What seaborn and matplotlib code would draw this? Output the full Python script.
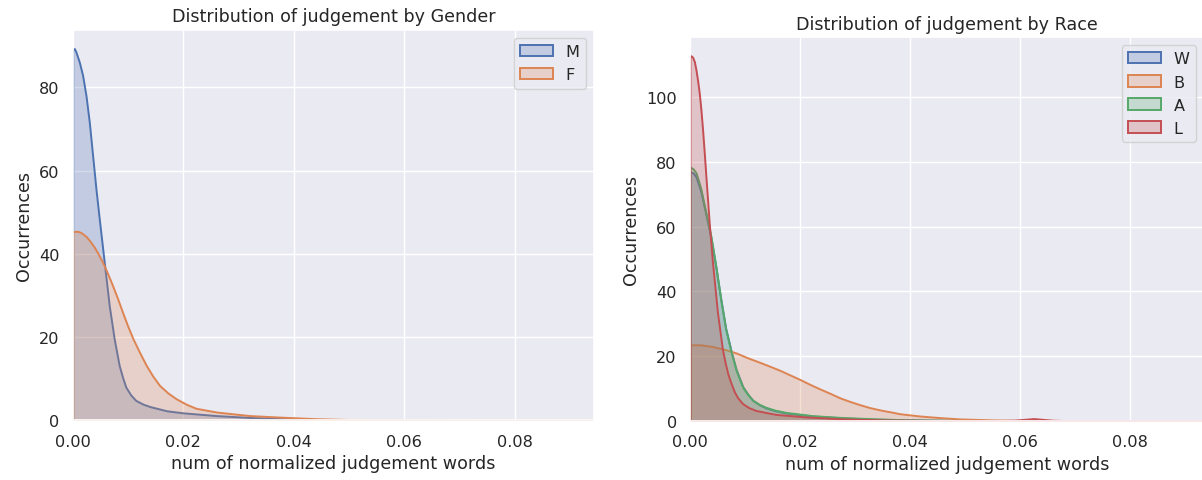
import matplotlib
matplotlib.use("Agg")
import matplotlib.pyplot as plt
from matplotlib.patches import Patch
import seaborn as sns

#--------------------------------------------------------------------
# density curves (x = normalized words, y = density)
#--------------------------------------------------------------------
gender_labels = ["M", "F"]
m_x = [0.0, 0.0003, 0.0006, 0.0012, 0.0018, 0.0024, 0.0030, 0.0036, 0.0042, 0.0048,
       0.0057, 0.0066, 0.0075, 0.0084, 0.0090, 0.0096, 0.0105, 0.0114, 0.0127, 0.014,
       0.017, 0.020, 0.026, 0.032, 0.038, 0.045, 0.055, 0.070, 0.0945]
m_y = [89.0, 89.3, 88.4, 86.0, 82.8, 78.0, 71.6, 63.6, 55.6, 48.4,
       38.0, 27.6, 19.6, 13.2, 10.4, 8.0, 6.1, 4.8, 3.9, 3.3,
       2.3, 1.8, 1.15, 0.7, 0.4, 0.15, 0.05, 0.0, 0.0]
f_x = [0.0, 0.0005, 0.0009, 0.0015, 0.0024, 0.0031, 0.0039, 0.0046, 0.0054, 0.0063,
       0.0072, 0.0081, 0.0090, 0.0099, 0.0109, 0.0121, 0.0133, 0.0145, 0.0157, 0.0172,
       0.0187, 0.0205, 0.0223, 0.026, 0.032, 0.038, 0.044, 0.050, 0.060, 0.075, 0.0945]
f_y = [45.3, 45.4, 45.4, 45.1, 44.2, 43.1, 41.6, 40.0, 38.0, 35.3,
       32.4, 29.3, 26.0, 22.8, 19.6, 16.3, 13.2, 10.6, 8.4, 6.6,
       5.2, 3.9, 2.9, 2.0, 1.15, 0.75, 0.4, 0.2, 0.05, 0.0, 0.0]

race_labels = ["W", "B", "A", "L"]
w_x = [0.0, 0.0006, 0.0011, 0.0015, 0.0020, 0.0029, 0.0038, 0.0047, 0.0056, 0.0065,
       0.0075, 0.0084, 0.0096, 0.0105, 0.0114, 0.0126, 0.0138, 0.0155, 0.0175, 0.0223,
       0.028, 0.034, 0.040, 0.050, 0.060, 0.094]
w_y = [77.1, 76.6, 75.5, 73.5, 70.8, 63.9, 56.8, 47.7, 37.7, 28.6,
       21.5, 15.9, 10.6, 8.3, 6.4, 5.0, 4.0, 3.1, 2.4, 1.5,
       0.9, 0.5, 0.3, 0.1, 0.0, 0.0]
b_x = [0.0, 0.002, 0.0041, 0.0065, 0.0084, 0.0105, 0.0127, 0.0145, 0.0164, 0.0182,
       0.020, 0.0218, 0.0236, 0.0255, 0.0273, 0.0291, 0.0309, 0.0327, 0.0345, 0.0364,
       0.0382, 0.0418, 0.0455, 0.049, 0.055, 0.062, 0.070, 0.094]
b_y = [23.5, 23.5, 23.0, 22.0, 21.0, 19.5, 18.1, 16.9, 15.6, 14.2,
       12.8, 11.3, 9.9, 8.5, 7.1, 6.0, 5.0, 4.1, 3.4, 2.8,
       2.2, 1.5, 1.0, 0.6, 0.3, 0.1, 0.0, 0.0]
a_x = [0.0, 0.0006, 0.0011, 0.0015, 0.0020, 0.0029, 0.0038, 0.0047, 0.0056, 0.0065,
       0.0075, 0.0084, 0.0096, 0.0105, 0.0114, 0.0126, 0.0138, 0.0155, 0.0175, 0.0223,
       0.028, 0.034, 0.040, 0.050, 0.060, 0.094]
a_y = [78.5, 77.9, 76.7, 74.6, 71.6, 64.4, 57.2, 47.9, 37.7, 28.4,
       21.2, 15.6, 10.4, 8.2, 6.4, 5.1, 4.2, 3.3, 2.6, 1.6,
       1.0, 0.6, 0.3, 0.1, 0.0, 0.0]
l_x = [0.0, 0.0002, 0.0005, 0.0008, 0.0011, 0.0014, 0.0017, 0.0020, 0.0023, 0.0026,
       0.0029, 0.0032, 0.0035, 0.0041, 0.0050, 0.0059, 0.0064, 0.0069, 0.0075, 0.0081,
       0.0087, 0.0096, 0.0107, 0.0120, 0.0156, 0.0211, 0.028, 0.035, 0.045, 0.055,
       0.059, 0.0625, 0.066, 0.070, 0.094]
l_y = [112.6, 112.9, 112.4, 111.1, 108.5, 105.2, 101.3, 96.2, 90.0, 83.0,
       75.7, 68.5, 61.3, 49.0, 33.6, 22.2, 18.0, 14.5, 11.5, 8.9,
       7.1, 5.3, 4.1, 3.2, 2.0, 1.2, 0.6, 0.3, 0.1, 0.05,
       0.2, 0.7, 0.2, 0.0, 0.0]


#--------------------------------------------------------------------
# filled density curve like kdeplot(fill=True)
#--------------------------------------------------------------------
def density(ax, x, y, color):
    ax.fill_between(x, y, facecolor=(*color, 0.25), edgecolor=color, linewidth=1.4)


def style_axes(ax, title, labels, colors, xmax, ymax):
    ax.set_xlim(0, xmax)
    ax.set_ylim(0, ymax)
    ax.set_xticks([0.0, 0.02, 0.04, 0.06, 0.08])
    ax.tick_params(labelsize=11.6)
    ax.set_title(title, fontsize=12.6)
    ax.set_xlabel("num of normalized judgement words", fontsize=12.6)
    ax.set_ylabel("Occurrences", fontsize=12.6)
    handles = [Patch(facecolor=(*c, 0.25), edgecolor=c, linewidth=1.4, label=lab)
               for lab, c in zip(labels, colors)]
    ax.legend(handles=handles, loc="upper right", fontsize=11.6)


def main():
    sns.set_theme(style="darkgrid")
    pal = sns.color_palette("deep")

    fig = plt.figure(figsize=(12.02, 4.81), dpi=100)
    ax1 = fig.add_axes([0.0605, 0.124, 0.4337, 0.812])
    ax2 = fig.add_axes([0.574, 0.123, 0.4276, 0.798])

    for (x, y), c in zip([(m_x, m_y), (f_x, f_y)], pal[:2]):
        density(ax1, x, y, c)
    style_axes(ax1, "Distribution of judgement by Gender", gender_labels, pal[:2], 0.0943, 93.8)

    race_curves = [(w_x, w_y), (b_x, b_y), (a_x, a_y), (l_x, l_y)]
    for (x, y), c in zip(race_curves, pal[:4]):
        density(ax2, x, y, c)
    style_axes(ax2, "Distribution of judgement by Race", race_labels, pal[:4], 0.0935, 118.7)

    fig.savefig("out.png", dpi=100)


main()
